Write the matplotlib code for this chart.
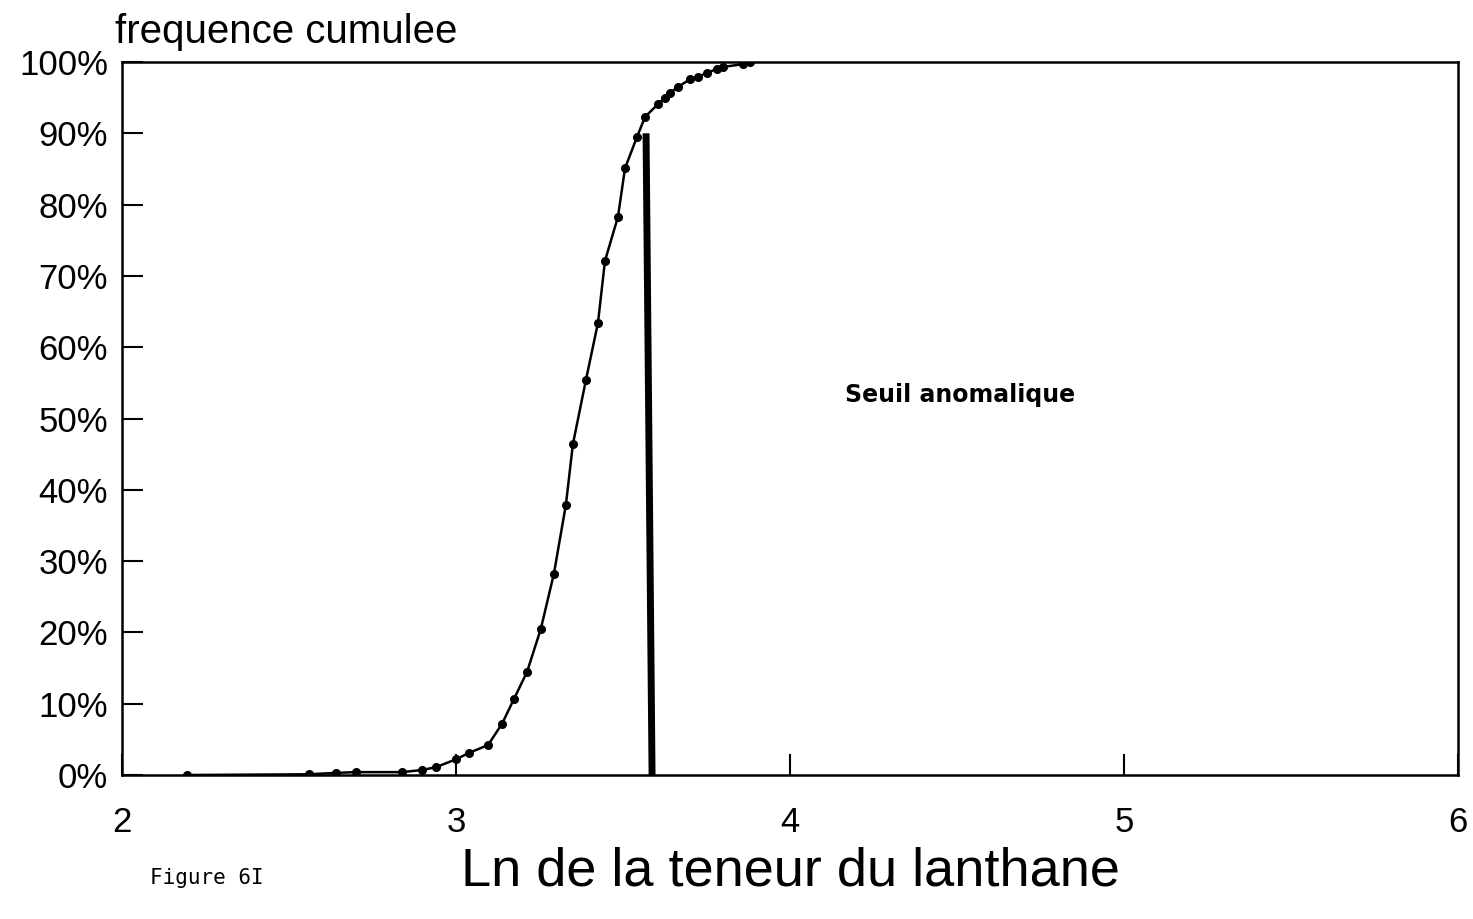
import matplotlib
matplotlib.use("Agg")
import matplotlib.pyplot as plt
from matplotlib.ticker import FuncFormatter

# Data
ln_lanthane = [2.195, 2.560, 2.641, 2.701, 2.838, 2.898, 2.940, 3.000, 3.039, 3.096,
               3.138, 3.174, 3.213, 3.254, 3.293, 3.329, 3.350, 3.389, 3.425, 3.446,
               3.485, 3.506, 3.542, 3.566, 3.605, 3.626, 3.641, 3.665, 3.701, 3.725,
               3.751, 3.781, 3.799, 3.859, 3.880]
freq_cumulee = [0.0, 0.1, 0.3, 0.4, 0.4, 0.7, 1.1, 2.2, 3.1, 4.2,
                7.2, 10.7, 14.5, 20.5, 28.2, 37.9, 46.4, 55.4, 63.4, 72.1,
                78.3, 85.1, 89.5, 92.3, 94.1, 95.0, 95.7, 96.5, 97.6, 97.9,
                98.5, 99.0, 99.3, 99.7, 100.0]
seuil_x = [3.587, 3.569]
seuil_y = [0, 90]
x_ticks = [2, 3, 4, 5, 6]
y_ticks = [0, 10, 20, 30, 40, 50, 60, 70, 80, 90, 100]

fam = ['Liberation Sans', 'DejaVu Sans']

fig = plt.figure(figsize=(14.73, 9.19), dpi=100)
ax = fig.add_axes([122/1473, 1-775/919, (1458-122)/1473, (775-62)/919])

ax.plot(ln_lanthane, freq_cumulee, color='black', lw=1.8, marker='o', ms=5.5)
ax.plot(seuil_x, seuil_y, color='black', lw=5, solid_capstyle='butt')

ax.set_xlim(2, 6)
ax.set_ylim(0, 100)
ax.set_xticks(x_ticks)
ax.set_yticks(y_ticks)
ax.yaxis.set_major_formatter(FuncFormatter(lambda v, p: f"{int(v)}%"))
ax.tick_params(axis='both', direction='in', length=15, width=1.5, colors='black')
ax.tick_params(axis='x', pad=22)
ax.tick_params(axis='y', pad=10)
for lab in ax.get_xticklabels() + ax.get_yticklabels():
    lab.set_family(fam)
    lab.set_fontsize(25)
for s in ax.spines.values():
    s.set_linewidth(1.8)

fig.text(115/1473, 1-32/919, "frequence cumulee", family=fam, fontsize=29,
         ha='left', va='center')
fig.text(790/1473, 1-871/919, "Ln de la teneur du lanthane", family=fam,
         fontsize=39, ha='center', va='center')
fig.text(150/1473, 1-878/919, "Figure 6I", family=['DejaVu Sans Mono'],
         fontsize=15, ha='left', va='center')
ax.text(4.51, 53.3, "Seuil anomalique", fontsize=17, fontweight='bold',
        family=['DejaVu Sans'], ha='center', va='center')

fig.savefig("out.png", dpi=100)
